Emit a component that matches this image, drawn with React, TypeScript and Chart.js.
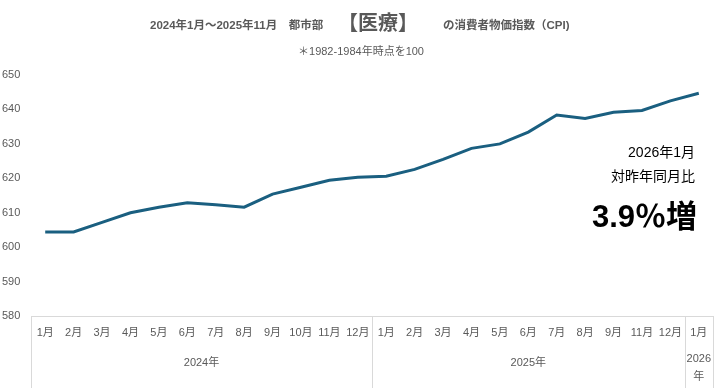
import React, { useEffect, useRef } from "react";
import { Chart, registerables } from "chart.js";

Chart.register(...registerables);

const months2024 = ["1月", "2月", "3月", "4月", "5月", "6月", "7月", "8月", "9月", "10月", "11月", "12月"];
const months2025 = ["1月", "2月", "3月", "4月", "5月", "6月", "7月", "8月", "9月", "11月", "12月"];
const months2026 = ["1月"];
const yearLabels = [["2024年"], ["2025年"], ["2026", "年"]];

const cpi2024 = [604.4, 604.4, 607.2, 610.0, 611.6, 612.9, 612.3, 611.6, 615.4, 617.4, 619.4, 620.3];
const cpi2025 = [620.6, 622.6, 625.5, 628.7, 630.0, 633.4, 638.4, 637.4, 639.2, 639.7, 642.5];
const cpi2026 = [644.7];

const yMin = 580;
const yMax = 650;
const yStep = 10;

const titlePart1 = "2024年1月～2025年11月　都市部";
const titlePart2 = "【医療】";
const titlePart3 = "の消費者物価指数（CPI)";
const subtitle = "＊1982-1984年時点を100";
const noteLine1 = "2026年1月";
const noteLine2 = "対昨年同月比";
const noteLine3 = "3.9％増";

const FONT = '"Liberation Sans", Arial, "Noto Sans CJK JP", sans-serif';
const GRAY = "#595959";
const LINE = "#d9d9d9";

const overlayPlugin = {
  id: "overlay",
  afterDraw(chart: any) {
    const ctx = chart.ctx as CanvasRenderingContext2D;
    const area = chart.chartArea;
    const xs = chart.scales.x;
    const H = chart.height;
    const groups = [months2024, months2025, months2026];

    ctx.save();
    const boundaries: number[] = [area.left];
    let idx = 0;
    groups.forEach((g, gi) => {
      idx += g.length;
      if (gi < groups.length - 1) {
        boundaries.push((xs.getPixelForValue(idx - 1) + xs.getPixelForValue(idx)) / 2);
      }
    });
    boundaries.push(area.right);

    ctx.strokeStyle = LINE;
    ctx.lineWidth = 1;
    ctx.beginPath();
    ctx.moveTo(area.left, Math.round(area.bottom) + 0.5);
    ctx.lineTo(area.right, Math.round(area.bottom) + 0.5);
    boundaries.forEach((b) => {
      const bx = Math.round(b) + 0.5;
      ctx.moveTo(bx, area.bottom);
      ctx.lineTo(bx, H - 2);
    });
    ctx.stroke();

    ctx.fillStyle = GRAY;
    ctx.font = `11px ${FONT}`;
    ctx.textAlign = "center";
    ctx.textBaseline = "middle";
    const labels = chart.data.labels as string[];
    labels.forEach((l, i) => {
      ctx.fillText(l, xs.getPixelForValue(i), area.bottom + 17);
    });

    yearLabels.forEach((lines, gi) => {
      const cx = (boundaries[gi] + boundaries[gi + 1]) / 2;
      if (lines.length === 1) {
        ctx.fillText(lines[0], cx, area.bottom + 47);
      } else {
        ctx.fillText(lines[0], cx, area.bottom + 43);
        ctx.fillText(lines[1], cx, area.bottom + 61);
      }
    });

    ctx.textAlign = "left";
    ctx.textBaseline = "alphabetic";
    ctx.font = `bold 11.5px ${FONT}`;
    ctx.fillText(titlePart1, 150, 29);
    ctx.font = `bold 20px ${FONT}`;
    ctx.fillText(titlePart2, 338, 30);
    ctx.font = `bold 11.5px ${FONT}`;
    ctx.fillText(titlePart3, 443, 29);

    ctx.textAlign = "center";
    ctx.font = `11px ${FONT}`;
    ctx.fillText(subtitle, 361, 55);

    ctx.fillStyle = "#000000";
    ctx.textAlign = "right";
    ctx.font = `14px ${FONT}`;
    ctx.fillText(noteLine1, 695, 157);
    ctx.fillText(noteLine2, 695, 181);
    ctx.font = `bold 31px ${FONT}`;
    ctx.fillText(noteLine3, 697, 227);
    ctx.restore();
  },
};

export default function App() {
  const ref = useRef<HTMLCanvasElement | null>(null);

  useEffect(() => {
    if (!ref.current) return;
    const labels = [...months2024, ...months2025, ...months2026];
    const data = [...cpi2024, ...cpi2025, ...cpi2026];
    const chart = new Chart(ref.current, {
      type: "line",
      data: {
        labels,
        datasets: [
          {
            data,
            borderColor: "#1a5f80",
            borderWidth: 3,
            pointRadius: 0,
            tension: 0,
            fill: false,
          },
        ],
      },
      options: {
        responsive: false,
        animation: false,
        layout: { padding: { left: 2, right: 3, top: 75, bottom: 74 } },
        plugins: {
          legend: { display: false },
          title: { display: false },
          tooltip: { enabled: false },
        },
        scales: {
          x: {
            type: "category",
            offset: true,
            display: false,
          },
          y: {
            min: yMin,
            max: yMax,
            grid: { display: false },
            border: { display: false },
            ticks: {
              stepSize: yStep,
              color: GRAY,
              font: { size: 11, family: FONT },
              crossAlign: "far",
            },
            afterFit: (s: any) => {
              s.width = 29;
            },
          },
        },
      },
      plugins: [overlayPlugin],
    });
    return () => chart.destroy();
  }, []);

  return (
    <div style={{ position: "absolute", left: 0, top: 0, width: 716, height: 390, background: "#fff" }}>
      <canvas ref={ref} width={716} height={390} />
    </div>
  );
}
